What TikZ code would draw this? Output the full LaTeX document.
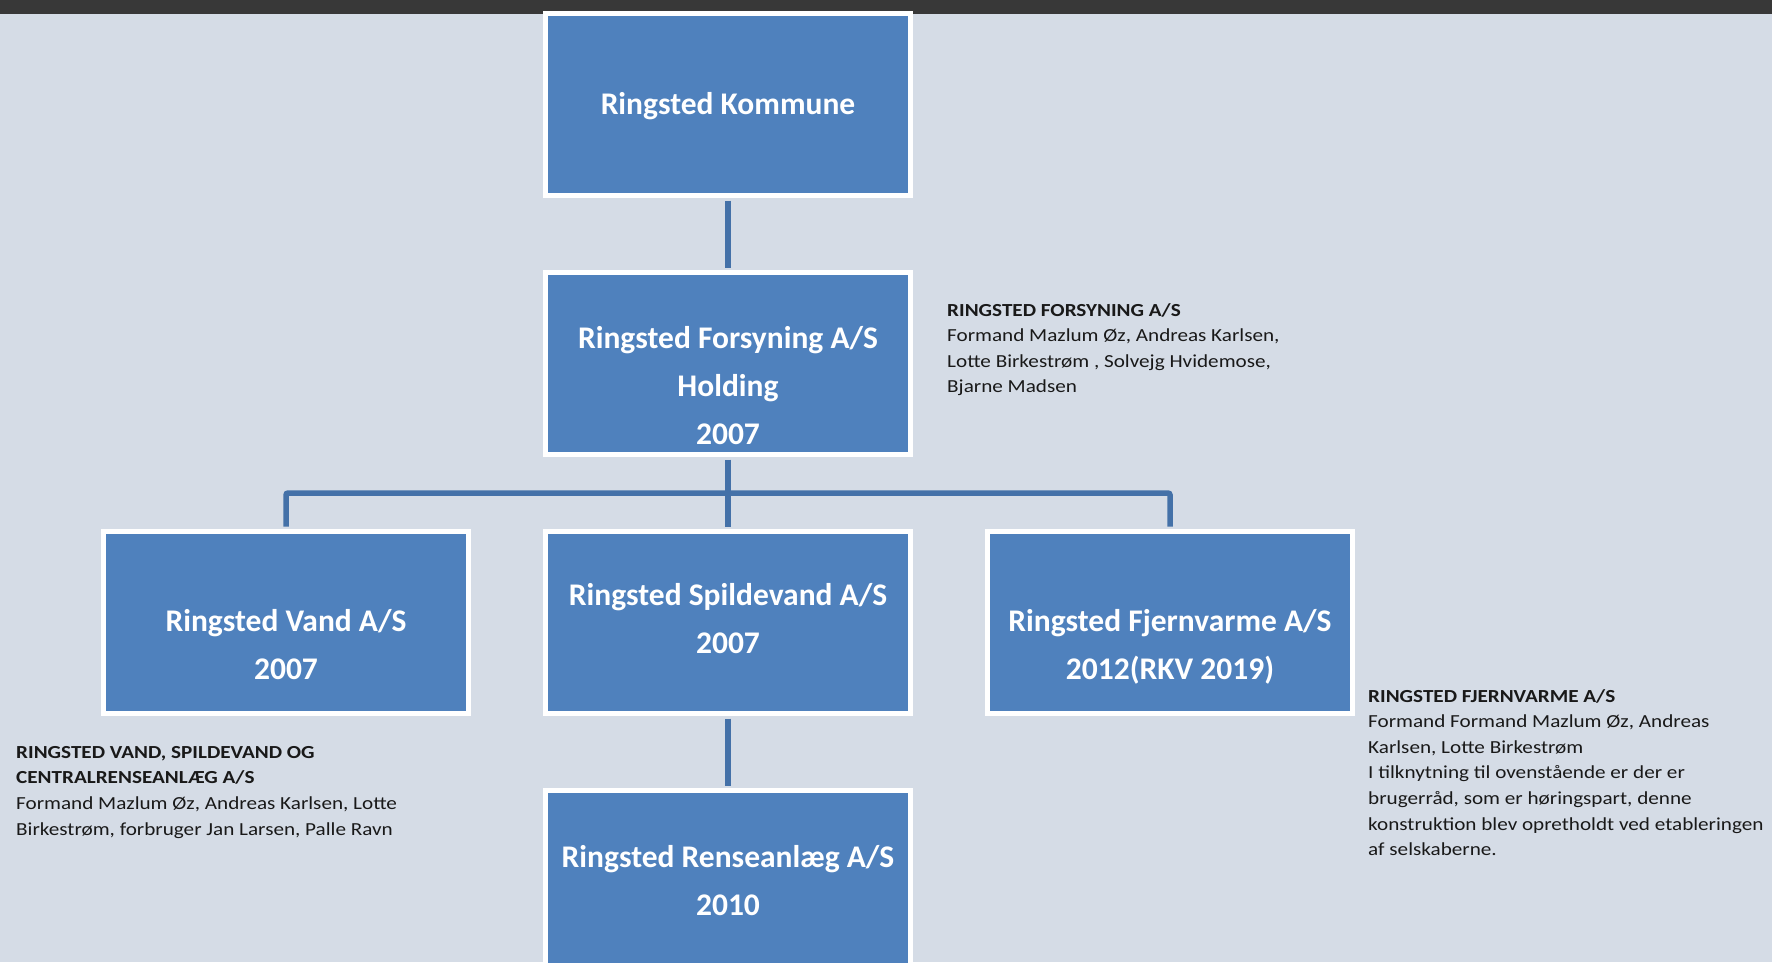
\documentclass[tikz,border=0pt]{standalone}
\usepackage{fontspec}
\setmainfont{Carlito}
\newfontfamily\notefont[FakeStretch=1.15]{Carlito}
\usetikzlibrary{positioning,calc}

\definecolor{bgcol}{HTML}{D5DCE6}
\definecolor{barcol}{HTML}{383838}
\definecolor{boxblue}{HTML}{4F81BD}
\definecolor{linecol}{HTML}{4471A8}

\tikzset{
  box/.style={rectangle, draw=white, line width=5pt, fill=boxblue,
    minimum width=365pt, minimum height=182pt, inner sep=0pt},
  boxtext/.style={text=white, align=center, inner sep=0pt,
    font=\fontsize{31.5}{48.3}\selectfont\bfseries},
  info/.style={anchor=north west, align=left, inner sep=0pt, text=black!90,
    font=\notefont\fontsize{18.4}{25.6}\selectfont},
  conn/.style={draw=linecol, line width=5.5pt, rounded corners=2pt,
    shorten >=2.5pt, shorten <=2.5pt}
}

\begin{document}
\begin{tikzpicture}[x=1pt, y=-1pt, node distance=72pt]
  \useasboundingbox (0,0) rectangle (1772,962);
  \clip (0,0) rectangle (1772,962);
  \fill[bgcol] (0,0) rectangle (1772,962);
  \fill[barcol] (0,0) rectangle (1772,14);

  % Boxes
  \node[box] (kommune) at (728,104.5) {};
  \node[box, below=of kommune] (forsyning) {};
  \node[box, below=of forsyning] (spildevand) {};
  \node[box, left=of spildevand] (vand) {};
  \node[box, right=of spildevand] (fjernvarme) {};
  \node[box, below=of spildevand] (renseanlaeg) {};

  % Box texts
  \node[boxtext, yshift=-2pt] (kommunetext) at (kommune) {Ringsted Kommune};
  \node[boxtext, yshift=-22pt] (forsyningtext) at (forsyning) {Ringsted Forsyning A/S\\Holding\\2007};
  \node[boxtext, yshift=-22pt] (vandtext) at (vand) {Ringsted Vand A/S\\2007};
  \node[boxtext, yshift=4pt] (spildevandtext) at (spildevand) {Ringsted Spildevand A/S\\2007};
  \node[boxtext, yshift=-24pt] (fjernvarmetext) at (fjernvarme) {Ringsted Fjernvarme A/S\\2012(RKV 2019)};
  \node[boxtext, yshift=1pt] (renseanlaegtext) at (renseanlaeg) {Ringsted Renseanlæg A/S\\2010};

  % Edges
  \coordinate (bus) at ($(forsyning.south)!.5!(spildevand.north)$);
  \draw[conn] (kommune) -- (forsyning);
  \draw[conn] (forsyning) -- (spildevand);
  \draw[conn] (vand.north) |- (bus) -| (fjernvarme.north);
  \draw[conn] (spildevand) -- (renseanlaeg);

  % Board notes
  \node[info] (forsyninginfo) at (947,303) {\textbf{RINGSTED FORSYNING A/S}\\
    Formand Mazlum Øz, Andreas Karlsen,\\
    Lotte Birkestrøm , Solvejg Hvidemose,\\
    Bjarne Madsen};
  \node[info] (vandinfo) at (16,746) {\textbf{RINGSTED VAND, SPILDEVAND OG}\\
    \textbf{CENTRALRENSEANLÆG A/S}\\
    Formand Mazlum Øz, Andreas Karlsen, Lotte\\
    Birkestrøm, forbruger Jan Larsen, Palle Ravn};
  \node[info] (fjernvarmeinfo) at (1368,689) {\textbf{RINGSTED FJERNVARME A/S}\\
    Formand Formand Mazlum Øz, Andreas\\
    Karlsen, Lotte Birkestrøm\\
    I tilknytning til ovenstående er der er\\
    brugerråd, som er høringspart, denne\\
    konstruktion blev opretholdt ved etableringen\\
    af selskaberne.};
\end{tikzpicture}
\end{document}
